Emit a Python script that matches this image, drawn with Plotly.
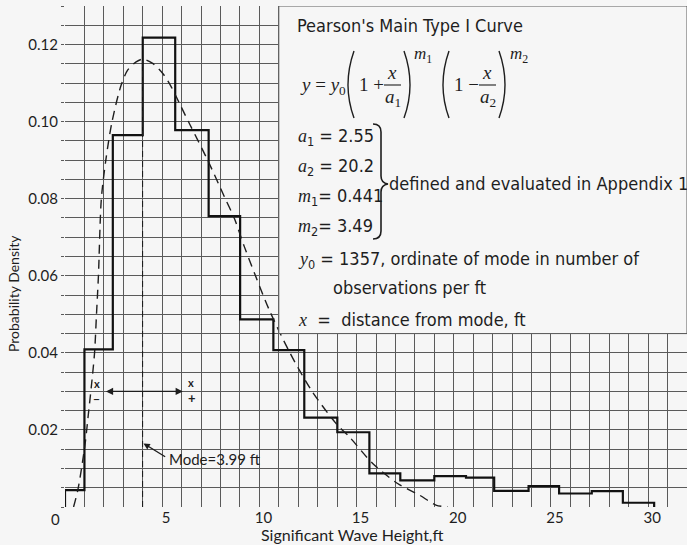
import plotly.graph_objects as go

# ---------------- data ----------------
# observed histogram (bin edges in ft, probability density per bin)
bin_edges = [0.0, 1.0, 2.46, 4.0, 5.67, 7.39, 9.01, 10.72, 12.31, 14.01, 15.66,
             17.25, 19.0, 20.63, 22.08, 23.85, 25.42, 27.1, 28.7, 30.31]
bin_density = [0.0044, 0.0409, 0.0965, 0.1218, 0.0978, 0.0755, 0.0487, 0.0407,
               0.0232, 0.0194, 0.0087, 0.0069, 0.0080, 0.0076, 0.0042, 0.0054,
               0.0035, 0.0041, 0.0011]

# fitted Pearson type I curve
curve_x = [0.44, 0.66, 0.85, 1.05, 1.2, 1.35, 1.52, 1.62, 1.72, 1.87, 2.1, 2.42,
           2.89, 3.23, 3.66, 4.0, 4.51, 5.03, 5.46, 5.89, 6.45, 7.34, 8.2, 8.71,
           9.23, 9.8, 10.51, 11.54, 12.66, 13.94, 14.63, 15.83, 17.11, 18.23,
           19.08, 19.7]
curve_y = [0.0, 0.0044, 0.010, 0.017, 0.024, 0.031, 0.040, 0.050, 0.060, 0.080,
           0.090, 0.100, 0.1095, 0.1134, 0.1155, 0.1162, 0.1151, 0.1125, 0.1091,
           0.1047, 0.0990, 0.090, 0.0805, 0.0749, 0.0675, 0.060, 0.0511, 0.0403,
           0.0304, 0.0217, 0.0182, 0.0113, 0.0061, 0.0031, 0.0005, 0.0]

mode_value = 3.99
mode_peak = 0.1162
x_minus_plus = [2.03, 6.06]      # extent of the +/- x arrow (ft)
arrow_level = 0.030

x_ticks = [0, 5, 10, 15, 20, 25, 30]
y_ticks = [0.02, 0.04, 0.06, 0.08, 0.10, 0.12]
y_tick_text = ["0.02", "0.04", "0.06", "0.08", "0.10", "0.12"]

# ---------------- styling ----------------
W, H = 687, 545
L, R, T, B = 65, 0, 6, 38
PW, PH = W - L - R, H - T - B
BG = "#f6f6f6"
GRID = "#5a5a5a"
INK = "#1e1e1e"
SANS = "Lato, Open Sans, sans-serif"
NARROW = "Liberation Sans Narrow, DejaVu Sans Condensed, Roboto Condensed, Roboto, sans-serif"
SERIF = "Liberation Serif, DejaVu Serif, serif"


def px(x):
    return (x - L) / PW


def py(y):
    return (H - B - y) / PH


def it(s):
    return f'<span style="font-family:{SERIF};font-style:italic">{s}</span>'


annotations = []
shapes = []


def label(x, y, text, size=18, family=NARROW, xanchor="left", yanchor="middle", **kw):
    annotations.append(dict(x=px(x), y=py(y), xref="paper", yref="paper", text=text,
                            showarrow=False, xanchor=xanchor, yanchor=yanchor,
                            font=dict(size=size, family=family, color=INK), **kw))


def path(d, width=1.4):
    shapes.append(dict(type="path", xref="paper", yref="paper", path=d,
                       line=dict(color=INK, width=width)))


def P(x, y):
    return f"{px(x):.5f},{py(y):.5f}"


fig = go.Figure()

# histogram as a step line
step_x = [bin_edges[0]] + bin_edges[:-1] + [bin_edges[-1]]
step_y = [0] + bin_density + [0]
fig.add_trace(go.Scatter(x=step_x, y=step_y, mode="lines", line_shape="hv",
                         line=dict(color="#111111", width=2.2), hoverinfo="skip"))

# fitted curve
fig.add_trace(go.Scatter(x=curve_x, y=curve_y, mode="lines", line_shape="spline",
                         line=dict(color=INK, width=1.4, dash="9px,6px", smoothing=0.8),
                         hoverinfo="skip"))

# mode line
fig.add_trace(go.Scatter(x=[mode_value, mode_value], y=[0, mode_peak], mode="lines",
                         line=dict(color=INK, width=1.1, dash="6px,4px"), hoverinfo="skip"))

# text panel covering the grid
shapes.append(dict(type="rect", xref="x", yref="y", x0=11, x1=32, y0=0.045, y1=0.13,
                   fillcolor=BG, line=dict(color=GRID, width=1), layer="above"))

# +/- double arrow
annotations.append(dict(x=x_minus_plus[1], y=arrow_level, ax=x_minus_plus[0], ay=arrow_level,
                        xref="x", yref="y", axref="x", ayref="y", text="", showarrow=True,
                        arrowhead=2, arrowside="end+start", arrowsize=1.1, arrowwidth=1.3,
                        arrowcolor=INK))
label(96.7, 383, "<b>x</b>", size=11, family=SANS, xanchor="center")
label(96.7, 398, "<b>−</b>", size=12, family=SANS, xanchor="center")
label(191, 382, "<b>x</b>", size=11, family=SANS, xanchor="center")
label(191.5, 398, "<b>+</b>", size=13, family=SANS, xanchor="center")

# mode pointer
annotations.append(dict(x=4.04, y=0.0165, ax=5.23, ay=0.0128, xref="x", yref="y",
                        axref="x", ayref="y", text="", showarrow=True, arrowhead=2,
                        arrowsize=0.9, arrowwidth=1.4, arrowcolor=INK))
label(167, 459, "Mode=3.99 ft", size=15, family=SANS)

# axis titles and the shifted "0" tick label
label(352, 534, "Significant Wave Height,ft", size=16, family=SANS, xanchor="center")
label(13, 294, "Probability Density", size=14, family=SANS, xanchor="center", textangle=-90)
label(55, 519, "0", size=15, family=SANS, xanchor="center")

# ---------------- text block ----------------
label(295, 25, "Pearson's Main Type I Curve", size=18)

# formula
fs = 19
AX = 85
label(298, AX + 1, f'{it("y")} = {it("y")}<sub>0</sub>', size=fs, family=SERIF)
path(f"M{P(354,51)} Q{P(342,AX)} {P(354,118)}")
label(357, AX, "1 +", size=fs, family=SERIF)
label(392, AX - 12, it("x"), size=fs, family=SERIF, xanchor="center")
path(f"M{P(384,AX)} L{P(401,AX)}", width=1.1)
label(393, AX + 13, f'{it("a")}<sub>1</sub>', size=fs, family=SERIF, xanchor="center")
path(f"M{P(404,51)} Q{P(416,AX)} {P(404,118)}")
label(412, 55, f'{it("m")}<sub>1</sub>', size=17, family=SERIF)
path(f"M{P(449,51)} Q{P(437,AX)} {P(449,118)}")
label(452, AX, "1 −", size=fs, family=SERIF)
label(487, AX - 12, it("x"), size=fs, family=SERIF, xanchor="center")
path(f"M{P(479,AX)} L{P(496,AX)}", width=1.1)
label(488, AX + 13, f'{it("a")}<sub>2</sub>', size=fs, family=SERIF, xanchor="center")
path(f"M{P(499,51)} Q{P(511,AX)} {P(499,118)}")
label(508, 55, f'{it("m")}<sub>2</sub>', size=17, family=SERIF)

# parameters
label(296, 137, f'{it("a")}<sub>1</sub> = 2.55', size=18)
label(296, 167, f'{it("a")}<sub>2</sub> = 20.2', size=18)
label(296, 197, f'{it("m")}<sub>1</sub>= 0.441', size=18)
label(296, 227, f'{it("m")}<sub>2</sub>= 3.49', size=18)
path(f"M{P(373,124)} Q{P(381,124)} {P(381,132)} L{P(381,176)} Q{P(381,183)} {P(388,184)} "
     f"Q{P(381,185)} {P(381,192)} L{P(381,231)} Q{P(381,239)} {P(373,239)}", width=1.6)
label(387, 184, "defined and evaluated in Appendix 1", size=18)
label(296, 260, f'{it("y")}<sub>0</sub> = 1357, ordinate of mode in number of', size=18)
label(331, 287, "observations per ft", size=18)
label(296, 319, f'{it("x")}  =  distance from mode, ft', size=18)

fig.update_layout(
    width=W, height=H, margin=dict(l=L, r=R, t=T, b=B),
    paper_bgcolor=BG, plot_bgcolor=BG, showlegend=False,
    annotations=annotations, shapes=shapes,
    xaxis=dict(range=[0, 32], tickvals=x_ticks, ticktext=[""] + [str(v) for v in x_ticks[1:]],
               ticklabelshift=4,
               showgrid=True, gridcolor=GRID, gridwidth=1, zeroline=False,
               showline=False, ticks="", tickfont=dict(family=SANS, size=15, color=INK),
               minor=dict(dtick=1, tick0=0, showgrid=True, gridcolor=GRID, gridwidth=1),
               fixedrange=True),
    yaxis=dict(range=[0, 0.13], tickvals=y_ticks, ticktext=y_tick_text,
               showgrid=True, gridcolor=GRID, gridwidth=1, zeroline=False,
               showline=False, ticks="outside", ticklen=3, tickcolor=GRID,
               tickfont=dict(family=SANS, size=15, color=INK),
               minor=dict(dtick=0.005, tick0=0, showgrid=True, gridcolor=GRID, gridwidth=1,
                          ticks="outside", ticklen=3, tickcolor=GRID),
               fixedrange=True),
)

fig.write_html("out.html")
